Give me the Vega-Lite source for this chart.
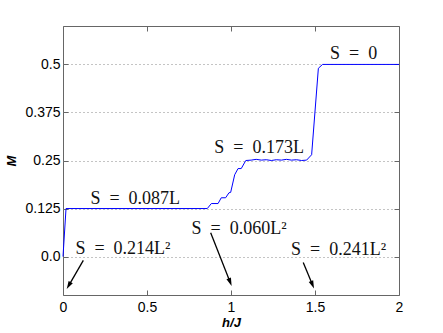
{
  "$schema": "https://vega.github.io/schema/vega-lite/v6.json",
  "width": 336,
  "height": 269,
  "autosize": {"type": "none"},
  "padding": {"left": 63, "top": 26, "right": 44, "bottom": 38},
  "background": "white",
  "config": {
    "view": {"stroke": "#666666", "strokeWidth": 1},
    "axis": {"labelFont": "Liberation Sans", "labelFontSize": 14, "labelColor": "#000000", "titleFont": "Liberation Sans", "titleFontSize": 13, "titleFontWeight": "bold", "titleFontStyle": "italic", "titleColor": "#000000", "domain": false, "tickColor": "#666666"}
  },
  "datasets": {
    "curve": [
      {"h": 0, "M": 0},
      {"h": 0.018, "M": 0.125},
      {"h": 0.859, "M": 0.125},
      {"h": 0.883, "M": 0.138},
      {"h": 0.923, "M": 0.138},
      {"h": 0.942, "M": 0.153},
      {"h": 0.968, "M": 0.153},
      {"h": 0.988, "M": 0.166},
      {"h": 0.998, "M": 0.167},
      {"h": 1.022, "M": 0.213},
      {"h": 1.042, "M": 0.229},
      {"h": 1.061, "M": 0.229},
      {"h": 1.088, "M": 0.25},
      {"h": 1.12, "M": 0.251},
      {"h": 1.15, "M": 0.253},
      {"h": 1.18, "M": 0.251},
      {"h": 1.21, "M": 0.252},
      {"h": 1.24, "M": 0.25},
      {"h": 1.27, "M": 0.252},
      {"h": 1.3, "M": 0.251},
      {"h": 1.33, "M": 0.253},
      {"h": 1.36, "M": 0.251},
      {"h": 1.39, "M": 0.252},
      {"h": 1.42, "M": 0.25},
      {"h": 1.45, "M": 0.251},
      {"h": 1.48, "M": 0.265},
      {"h": 1.52, "M": 0.49},
      {"h": 1.545, "M": 0.5},
      {"h": 2.0, "M": 0.5}
    ],
    "labels": [
      {"h": 0.43, "M": 0.15, "t": "S\u2002=\u20020.087L"},
      {"h": 0.357, "M": 0.02, "t": "S\u2002=\u20020.214L²"},
      {"h": 1.167, "M": 0.283, "t": "S\u2002=\u20020.173L"},
      {"h": 1.73, "M": 0.527, "t": "S\u2002=\u20020"},
      {"h": 1.048, "M": 0.073, "t": "S\u2002=\u20020.060L²"},
      {"h": 1.64, "M": 0.018, "t": "S\u2002=\u20020.241L²"}
    ],
    "arrows": [
      {"id": 1, "h": 0.121, "M": -0.01, "h2": 0.034, "M2": -0.0756},
      {"id": 2, "h": 0.879, "M": 0.062, "h2": 0.995, "M2": -0.0667},
      {"id": 3, "h": 1.43, "M": -0.0155, "h2": 1.485, "M2": -0.0733}
    ]
  },
  "resolve": {"axis": {"x": "independent", "y": "independent"}},
  "layer": [
    {
      "data": {"name": "curve"},
      "mark": {"type": "line", "color": "#0000ff", "strokeWidth": 1},
      "encoding": {
        "x": {"field": "h", "type": "quantitative", "scale": {"domain": [0, 2], "nice": false, "zero": false},
          "axis": {"orient": "bottom", "values": [0, 0.5, 1, 1.5, 2], "labelExpr": "'' + datum.value", "title": "h/J", "grid": false, "tickSize": -5, "labelPadding": 10, "titlePadding": 2, "labelFlush": false}},
        "y": {"field": "M", "type": "quantitative", "scale": {"domain": [-0.1, 0.6], "nice": false, "zero": false},
          "axis": {"orient": "left", "values": [0, 0.125, 0.25, 0.375, 0.5], "labelExpr": "datum.value == 0 ? '0.0' : '' + datum.value", "title": "M", "grid": true, "gridDash": [1, 3], "gridColor": "#888888", "gridWidth": 1, "tickSize": -5, "labelPadding": 8, "titlePadding": 6}}
      }
    },
    {
      "data": {"name": "curve"},
      "mark": {"type": "line", "opacity": 0},
      "encoding": {
        "x": {"field": "h", "type": "quantitative", "scale": {"domain": [0, 2], "nice": false, "zero": false},
          "axis": {"orient": "top", "values": [0, 0.5, 1, 1.5, 2], "labels": false, "title": null, "grid": false, "tickSize": -5}},
        "y": {"field": "M", "type": "quantitative", "scale": {"domain": [-0.1, 0.6], "nice": false, "zero": false},
          "axis": {"orient": "right", "values": [0, 0.125, 0.25, 0.375, 0.5], "labels": false, "title": null, "grid": false, "tickSize": -5}}
      }
    },
    {
      "data": {"name": "labels"},
      "mark": {"type": "text", "font": "Liberation Serif", "fontSize": 18, "color": "#111111", "align": "center", "baseline": "middle"},
      "encoding": {
        "x": {"field": "h", "type": "quantitative", "axis": null},
        "y": {"field": "M", "type": "quantitative", "axis": null},
        "text": {"field": "t"}
      }
    },
    {
      "data": {"name": "arrows"},
      "mark": {"type": "rule", "color": "#000000", "strokeWidth": 1.3},
      "encoding": {
        "x": {"field": "h", "type": "quantitative", "axis": null},
        "y": {"field": "M", "type": "quantitative", "axis": null},
        "x2": {"field": "h2"},
        "y2": {"field": "M2"}
      }
    },
    {
      "data": {"name": "arrows"},
      "transform": [{"filter": "datum.id == 1"}],
      "mark": {"type": "point", "shape": "M0,-1L0.6,1L-0.6,1Z", "filled": true, "color": "#000000", "size": 64, "angle": 210, "opacity": 1},
      "encoding": {
        "x": {"field": "h2", "type": "quantitative", "axis": null},
        "y": {"field": "M2", "type": "quantitative", "axis": null}
      }
    },
    {
      "data": {"name": "arrows"},
      "transform": [{"filter": "datum.id == 2"}],
      "mark": {"type": "point", "shape": "M0,-1L0.6,1L-0.6,1Z", "filled": true, "color": "#000000", "size": 64, "angle": 158.5, "opacity": 1},
      "encoding": {
        "x": {"field": "h2", "type": "quantitative", "axis": null},
        "y": {"field": "M2", "type": "quantitative", "axis": null}
      }
    },
    {
      "data": {"name": "arrows"},
      "transform": [{"filter": "datum.id == 3"}],
      "mark": {"type": "point", "shape": "M0,-1L0.6,1L-0.6,1Z", "filled": true, "color": "#000000", "size": 64, "angle": 157.6, "opacity": 1},
      "encoding": {
        "x": {"field": "h2", "type": "quantitative", "axis": null},
        "y": {"field": "M2", "type": "quantitative", "axis": null}
      }
    }
  ]
}
